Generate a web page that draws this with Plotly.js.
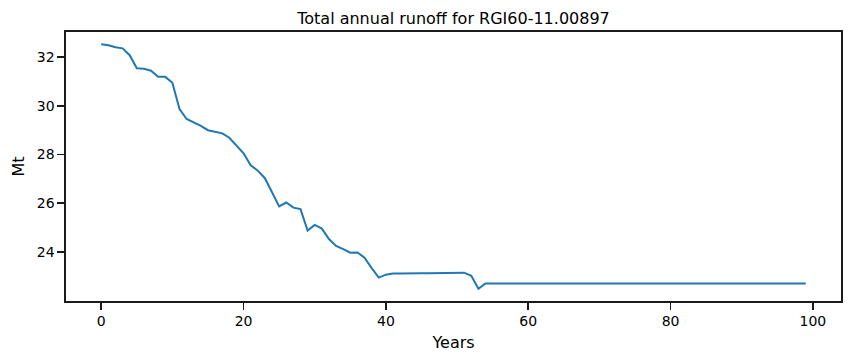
<!DOCTYPE html>
<html>
<head>
<meta charset="utf-8">
<script src="https://cdn.plot.ly/plotly-3.0.1.min.js"></script>
<style>html,body{margin:0;padding:0;background:#fff;}#chart{width:851px;height:363px;}</style>
</head>
<body>
<div id="chart"></div>
<script>
const years = Array.from({length: 100}, (_, i) => i);
const runoff = [
  32.53, 32.49, 32.41, 32.36, 32.08, 31.54, 31.52, 31.44, 31.19, 31.19,
  30.95, 29.87, 29.46, 29.32, 29.18, 29.00, 28.95, 28.87, 28.69, 28.39,
  28.05, 27.56, 27.34, 27.03, 26.48, 25.87, 26.03, 25.82, 25.76, 24.88,
  25.11, 24.96, 24.53, 24.25, 24.12, 23.97, 23.98, 23.77, 23.34, 22.95,
  23.07, 23.12, 23.12, 23.13, 23.13, 23.13, 23.13, 23.14, 23.14, 23.14,
  23.15, 23.15, 23.02, 22.49, 22.71, 22.71, 22.71, 22.71, 22.71, 22.71,
  22.71, 22.71, 22.71, 22.71, 22.71, 22.71, 22.71, 22.71, 22.71, 22.71,
  22.71, 22.71, 22.71, 22.71, 22.71, 22.71, 22.71, 22.71, 22.71, 22.71,
  22.71, 22.71, 22.71, 22.71, 22.71, 22.71, 22.71, 22.71, 22.71, 22.71,
  22.71, 22.71, 22.71, 22.71, 22.71, 22.71, 22.71, 22.71, 22.71, 22.71
];
const xTicks = [0, 20, 40, 60, 80, 100];
const yTicks = [24, 26, 28, 30, 32];
const titleText = 'Total annual runoff for RGI60-11.00897';
const xTitle = 'Years';
const yTitle = 'Mt';

const xmin = Math.min(...years), xmax = Math.max(...years);
const ymin = Math.min(...runoff), ymax = Math.max(...runoff);
const xpad = (xmax - xmin) * 0.05, ypad = (ymax - ymin) * 0.05;

const font = {family: 'DejaVu Sans, sans-serif', color: '#000'};
const axisCommon = {
  showgrid: false, zeroline: false,
  showline: true, linecolor: '#1a1a1a', linewidth: 1.6, mirror: true,
  ticks: 'outside', ticklen: 7, tickwidth: 1.6, tickcolor: '#1a1a1a',
  tickfont: Object.assign({size: 14}, font)
};

Plotly.newPlot('chart', [{
  x: years, y: runoff, type: 'scatter', mode: 'lines',
  line: {color: '#1f77b4', width: 2}
}], {
  width: 851, height: 363,
  margin: {l: 66, r: 10, t: 32, b: 62, pad: 0},
  paper_bgcolor: '#fff', plot_bgcolor: '#fff',
  showlegend: false,
  title: {text: titleText, font: Object.assign({size: 16}, font), x: 0.5, xref: 'paper', xanchor: 'center', y: 1, yref: 'paper', yanchor: 'bottom', pad: {b: 8}},
  xaxis: Object.assign({}, axisCommon, {
    range: [xmin - xpad, xmax + xpad], tickvals: xTicks, ticktext: xTicks.map(String),
    title: {text: xTitle, font: Object.assign({size: 16}, font), standoff: 8}
  }),
  yaxis: Object.assign({}, axisCommon, {
    range: [ymin - ypad, ymax + ypad], tickvals: yTicks, ticktext: yTicks.map(String),
    title: {text: yTitle, font: Object.assign({size: 16}, font), standoff: 8}
  })
}, {displayModeBar: false, staticPlot: true});
</script>
</body>
</html>
